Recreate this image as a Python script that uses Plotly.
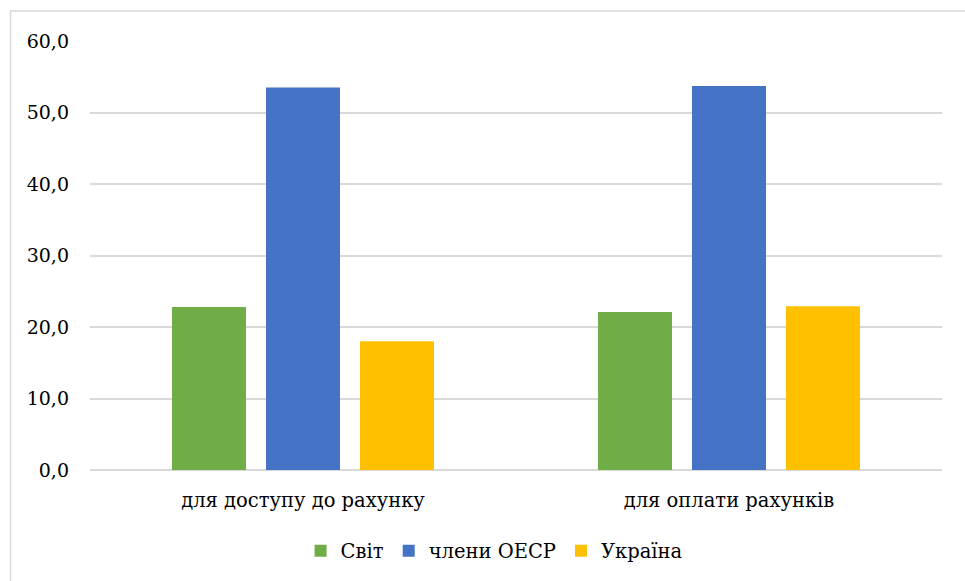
import plotly.graph_objects as go

categories = ["для доступу до рахунку", "для оплати рахунків"]
series_names = ["Світ", "члени ОЕСР", "Україна"]
world = [22.8, 22.1]
oecd = [53.5, 53.7]
ukraine = [18.0, 22.9]
colors = ["#70AD47", "#4472C4", "#FFC000"]

FONT = "DejaVu Serif"
FONT_SIZE = 19.5

fig = go.Figure()
for name, vals, col in zip(series_names, [world, oecd, ukraine], colors):
    fig.add_trace(go.Bar(
        x=categories, y=vals, name=name,
        marker=dict(color=col, line=dict(width=0)),
    ))

fig.update_layout(
    width=965, height=581,
    margin=dict(l=90, r=23, t=41, b=111),
    paper_bgcolor="white", plot_bgcolor="white",
    barmode="group", bargap=0.338, bargroupgap=0.213,
    separators=", ",
    font=dict(family=FONT, size=FONT_SIZE, color="#000000"),
    showlegend=True,
    legend=dict(
        orientation="h", xref="container", yref="container",
        x=0.5125, xanchor="center", y=0.0516, yanchor="middle",
        font=dict(family=FONT, size=FONT_SIZE, color="#000000"),
        itemwidth=30, traceorder="normal",
    ),
    xaxis=dict(
        showgrid=False, showline=False, ticks="",
        tickfont=dict(family=FONT, size=FONT_SIZE, color="#000000"),
        ticklabelstandoff=16,
    ),
    yaxis=dict(
        range=[0, 60], dtick=10, tickformat=".1f",
        showgrid=True, gridcolor="#d9d9d9", gridwidth=1.5,
        zeroline=True, zerolinecolor="#d9d9d9", zerolinewidth=1.5,
        showline=False, ticks="",
        tickfont=dict(family=FONT, size=19, color="#000000"),
        ticklabelstandoff=20,
    ),
    shapes=[
        dict(type="rect", xref="paper", yref="paper",
             x0=-0.0933, x1=1.3, y0=-0.6, y1=1.07,
             line=dict(color="#d9d9d9", width=1.5), fillcolor="rgba(0,0,0,0)",
             layer="below"),
    ],
)

fig.write_html("out.html")
